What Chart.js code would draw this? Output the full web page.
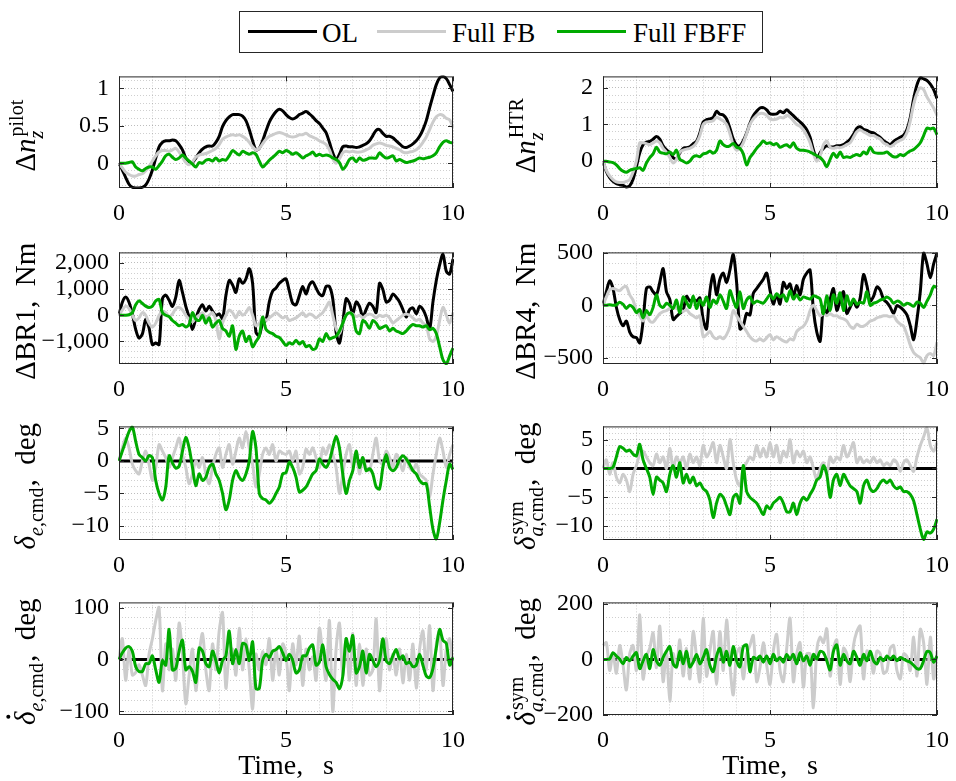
<!DOCTYPE html>
<html lang="en">
<head>
<meta charset="UTF-8">
<title>Load and command responses</title>
<script src="https://cdn.jsdelivr.net/npm/chart.js"></script>
<style>
  body { margin: 0; background: #fff; }
  #page { position: relative; width: 956px; height: 781px; overflow: hidden; background: #fff;
          font-family: 'Liberation Serif', 'Times New Roman', Times, serif; }
  .panel { position: absolute; }
  #legend { position: absolute; left: 239px; top: 11px; width: 524px; height: 42px;
            border: 1px solid #262626; box-sizing: border-box; background: #fff; }
  #legend .ln { position: absolute; top: 18px; width: 69px; height: 3px; }
  #legend .tx { position: absolute; top: 4px; font-size: 27px; line-height: 34px; color: #000; white-space: nowrap; }
</style>
</head>
<body>
<div id="page">
  <div id="legend">
    <div class="ln" style="left:8px;background:#000"></div><div class="tx" style="left:82px">OL</div>
    <div class="ln" style="left:137px;background:#cccccc"></div><div class="tx" style="left:212px">Full FB</div>
    <div class="ln" style="left:317px;background:#00aa00"></div><div class="tx" style="left:393px">Full FBFF</div>
  </div>
</div>

<script>
// time grid of the recorded signals, 0..10 s every 0.1 s
const T = Array.from({length: 101}, (_, k) => k / 10);
const T_ENDS = [0, 10];

// ---- delta nz pilot ----
const nzPilotOL = [
  0, -0.09, -0.19, -0.28, -0.32, -0.33, -0.33, -0.32, -0.29, -0.21,
  -0.09, 0.07, 0.22, 0.28, 0.30, 0.30, 0.31, 0.30, 0.25, 0.18,
  0.07, 0.02, 0.01, 0.07, 0.14, 0.19, 0.22, 0.23, 0.23, 0.28,
  0.36, 0.49, 0.57, 0.62, 0.65, 0.65, 0.65, 0.63, 0.57, 0.45,
  0.30, 0.18, 0.20, 0.30, 0.43, 0.55, 0.63, 0.69, 0.72, 0.70,
  0.65, 0.61, 0.59, 0.61, 0.65, 0.67, 0.69, 0.66, 0.62, 0.57,
  0.53, 0.47, 0.41, 0.28, 0.14, 0.05, 0.12, 0.22, 0.23, 0.22,
  0.22, 0.21, 0.22, 0.24, 0.26, 0.30, 0.37, 0.44, 0.45, 0.40,
  0.36, 0.36, 0.34, 0.30, 0.26, 0.22, 0.21, 0.23, 0.26, 0.30,
  0.36, 0.45, 0.57, 0.74, 0.90, 1.05, 1.14, 1.16, 1.13, 1.05,
  0.96];
const nzPilotFB = [
  0, -0.06, -0.12, -0.15, -0.17, -0.17, -0.15, -0.14, -0.10, -0.04,
  0.03, 0.10, 0.15, 0.17, 0.17, 0.16, 0.18, 0.20, 0.15, 0.08,
  0.01, -0.02, 0.02, 0.08, 0.11, 0.12, 0.13, 0.15, 0.17, 0.20,
  0.25, 0.32, 0.35, 0.37, 0.38, 0.37, 0.38, 0.36, 0.33, 0.28,
  0.22, 0.18, 0.20, 0.26, 0.32, 0.36, 0.38, 0.40, 0.41, 0.40,
  0.38, 0.36, 0.35, 0.36, 0.38, 0.38, 0.40, 0.37, 0.35, 0.33,
  0.30, 0.28, 0.25, 0.18, 0.06, 0.00, 0.06, 0.14, 0.16, 0.15,
  0.16, 0.15, 0.15, 0.16, 0.18, 0.20, 0.24, 0.26, 0.27, 0.26,
  0.24, 0.23, 0.22, 0.20, 0.18, 0.15, 0.14, 0.15, 0.16, 0.18,
  0.22, 0.28, 0.35, 0.45, 0.55, 0.62, 0.65, 0.64, 0.60, 0.58,
  0.48];
const nzPilotFBFF = [
  0, 0, 0, 0.01, 0.02, -0.05, -0.08, -0.10, -0.07, -0.05,
  -0.05, -0.08, -0.03, 0.03, 0.10, 0.12, 0.08, 0.05, 0.07, 0.11,
  0.07, 0.03, -0.01, -0.05, 0.01, 0.00, 0.04, 0.05, 0.03, 0.07,
  0.03, 0.05, 0.04, 0.10, 0.17, 0.14, 0.11, 0.16, 0.14, 0.12,
  0.14, 0.12, 0.03, -0.05, -0.01, 0.04, 0.08, 0.12, 0.16, 0.14,
  0.17, 0.15, 0.12, 0.14, 0.11, 0.07, 0.10, 0.12, 0.15, 0.10,
  0.12, 0.10, 0.11, 0.10, 0.07, 0.05, 0.01, -0.08, -0.03, 0.05,
  0.07, 0.02, 0.07, 0.04, 0.05, 0.07, 0.07, 0.07, 0.14, 0.10,
  0.07, 0.08, 0.10, 0.03, 0.05, 0.03, 0.01, 0.02, 0.03, 0.05,
  0.07, 0.06, 0.07, 0.08, 0.10, 0.14, 0.22, 0.28, 0.30, 0.28,
  0.27];

// ---- delta nz HTR ----
const nzHtrOL = [
  0, -0.28, -0.45, -0.55, -0.61, -0.64, -0.66, -0.70, -0.67, -0.49,
  -0.15, 0.23, 0.45, 0.52, 0.54, 0.60, 0.67, 0.60, 0.42, 0.31,
  0.23, 0.10, 0.06, 0.23, 0.35, 0.37, 0.39, 0.48, 0.54, 0.77,
  1.07, 1.13, 1.15, 1.19, 1.36, 1.28, 1.26, 1.15, 0.90, 0.60,
  0.44, 0.42, 0.56, 0.77, 1.03, 1.24, 1.36, 1.45, 1.46, 1.40,
  1.29, 1.28, 1.29, 1.36, 1.32, 1.40, 1.32, 1.24, 1.15, 1.07,
  0.98, 0.86, 0.65, 0.31, 0.06, 0.23, 0.35, 0.42, 0.39, 0.39,
  0.42, 0.42, 0.45, 0.52, 0.60, 0.73, 0.90, 0.94, 0.87, 0.84,
  0.79, 0.77, 0.71, 0.65, 0.56, 0.50, 0.45, 0.54, 0.60, 0.65,
  0.71, 0.86, 1.19, 1.70, 2.08, 2.27, 2.24, 2.20, 2.10, 1.95,
  1.71];
const nzHtrFB = [
  0, -0.25, -0.40, -0.50, -0.56, -0.58, -0.58, -0.55, -0.50, -0.30,
  0.00, 0.50, 0.50, 0.48, 0.45, 0.50, 0.55, 0.50, 0.35, 0.25,
  0.10, -0.05, 0.05, 0.25, 0.30, 0.33, 0.35, 0.40, 0.50, 0.70,
  1.00, 1.07, 1.08, 1.10, 1.20, 1.15, 1.10, 1.00, 0.75, 0.45,
  0.30, 0.35, 0.50, 0.75, 1.00, 1.15, 1.25, 1.30, 1.30, 1.25,
  1.15, 1.13, 1.15, 1.20, 1.18, 1.25, 1.20, 1.10, 1.00, 0.95,
  0.85, 0.70, 0.50, 0.20, 0.00, 0.15, 0.45, 0.55, 0.38, 0.35,
  0.38, 0.37, 0.40, 0.45, 0.50, 0.65, 0.80, 0.85, 0.80, 0.75,
  0.70, 0.70, 0.65, 0.60, 0.50, 0.45, 0.40, 0.45, 0.52, 0.57,
  0.62, 0.78, 1.10, 1.55, 1.85, 2.00, 1.95, 1.75, 1.60, 1.45,
  1.25];
const nzHtrFBFF = [
  0, 0.00, -0.02, -0.04, -0.10, -0.20, -0.27, -0.30, -0.25, -0.22,
  -0.20, -0.18, -0.25, -0.05, 0.10, 0.20, 0.38, 0.25, 0.22, 0.20,
  0.25, 0.18, 0.30, 0.05, 0.00, -0.05, 0.00, 0.12, 0.15, 0.12,
  0.20, 0.22, 0.28, 0.22, 0.30, 0.55, 0.45, 0.40, 0.42, 0.48,
  0.38, 0.35, 0.20, -0.10, 0.10, 0.22, 0.35, 0.45, 0.55, 0.48,
  0.50, 0.45, 0.48, 0.38, 0.42, 0.45, 0.38, 0.50, 0.35, 0.30,
  0.30, 0.28, 0.25, 0.20, 0.15, 0.10, 0.00, -0.15, 0.05, 0.22,
  0.10, 0.25, 0.10, 0.12, 0.10, 0.15, 0.18, 0.15, 0.25, 0.20,
  0.38, 0.25, 0.22, 0.22, 0.22, 0.25, 0.18, 0.12, 0.12, 0.18,
  0.15, 0.22, 0.28, 0.32, 0.40, 0.50, 0.70, 0.90, 0.88, 0.90,
  0.72];

// ---- delta BR1, Nm ----
const br1OL = [
  0, 500, 700, 500, 50, -540, -870, -710, -160, -480,
  -1120, -1060, -1120, 630, 770, 570, 340, 690, 1330, 870,
  340, -70, -540, -130, 220, 400, 160, 340, 160, -10,
  50, -130, 750, 1330, 1160, 870, 1390, 1220, 1390, 1780,
  1220, -650, -770, -300, -190, 510, 920, 1040, 1220, 1330,
  1390, 920, 460, 400, 750, 1100, 810, 1160, 1280, 1040,
  810, 750, 1100, 1100, 630, -650, -1060, -300, 630, 460,
  50, 510, 340, -70, 220, 460, 340, 100, 1220, 980,
  510, 570, 810, 690, 510, 220, -70, 220, 280, 50,
  340, 220, -70, -540, 510, 1330, 1920, 2330, 1680, 1570,
  2150];
const br1FB = [
  0, 200, 350, 250, 0, -200, -100, 100, 0, -300,
  -450, -300, 0, 150, 100, -50, 50, 250, 300, 200,
  0, -150, -250, -100, 0, 100, -100, 0, 100, -200,
  -900, -300, 0, 200, 100, -100, 150, 0, 100, 300,
  0, -400, -300, -100, -200, -100, 0, 100, 0, -100,
  -50, -200, -150, -100, 0, 100, -50, 50, 0, -100,
  0, 100, 300, 500, 0, -500, -700, -300, 0, 100,
  50, -50, 0, -100, 0, 50, 0, -100, 0, -50,
  0, -100, -300, -200, -100, 0, 50, 0, -100, -200,
  -150, -300, -400, -900, -1000, -800, -200, 300, 0, -300,
  100];
const br1FBFF = [
  0, 0, 0, 20, 100, 400, 550, 450, 350, 300,
  350, 550, 600, 100, 0, -50, -200, -300, -400, -350,
  -450, -350, 100, -150, -200, 0, -300, -100, -450, -300,
  -200, -500, -600, -800, -400, -1300, -800, -600, -1000, -800,
  -1200, -1000, -800, -70, -540, -650, -700, -800, -850, -1000,
  -1150, -1050, -1100, -950, -1100, -1000, -1200, -1150, -1300, -1250,
  -900, -1000, -700, -900, -850, -800, -600, -300, 0, 100,
  0, -600, -700, -200, -300, -500, -200, -300, -500, -450,
  -400, -600, -500, -600, -650, -700, -600, -450, -350, -400,
  -400, -450, -400, -550, -500, -700, -1200, -1700, -1850, -1550,
  -1250];

// ---- delta BR4, Nm ----
const br4OL = [
  0, 130, 234, 160, -18, -136, -195, -150, -255, -300,
  -308, -358, -150, 160, 175, 130, 100, 220, 350, 130,
  56, -136, -106, -77, -47, 86, 41, 56, 41, 71,
  -136, -225, 130, 293, 100, 249, 308, 219, 337, 485,
  219, -225, -195, -77, -92, 115, 160, 204, 249, 308,
  145, 12, 100, 12, 219, 160, 204, 86, 190, 100,
  249, 308, 337, -47, -255, -343, -18, -77, 56, 160,
  -47, 41, 130, -77, -18, 41, -18, 71, 293, 190,
  41, 86, 175, 145, 56, 27, -18, -77, -3, -18,
  -47, -92, -195, -328, -136, 130, 500, 396, 263, 396,
  500];
const br4FB = [
  0, 80, 150, 160, 150, 140, 170, 180, 100, 50,
  -50, -100, -150, -100, -150, -160, -120, -80, -60, -50,
  -30, 0, -30, -40, -60, -40, -80, -100, -120, -100,
  -300, -280, -250, -300, -320, -300, -320, -280, -200, -50,
  -100, -150, -200, -250, -300, -330, -340, -320, -340, -310,
  -280, -330, -300, -320, -340, -350, -320, -330, -250, -220,
  -200, -150, -50, 0, -50, -100, -80, -100, -80, -100,
  -100, -120, -130, -150, -200, -220, -180, -200, -200, -180,
  -150, -140, -120, -110, -100, -100, -110, -100, -150, -180,
  -200, -280, -380, -450, -480, -500, -550, -480, -460, -480,
  -350];
const br4FBFF = [
  0, 0, 5, 0, 5, 30, 10, -30, 0, -20,
  -70, -40, -120, -50, -90, -20, 100, 0, -20, 20,
  0, -30, 50, -70, 80, 30, -20, 90, -30, 50,
  0, 80, -20, 50, 20, 100, 40, -30, 140, 50,
  -20, 130, -30, 50, 80, 20, 40, 30, 20, 60,
  100, 60, 110, 80, 100, 40, 140, 60, 100, 50,
  80, 70, 60, 90, 80, 60, -80, 90, -50, 100,
  20, 120, -50, 90, 0, 60, 10, 30, 20, 130,
  0, 20, 30, 50, 60, 80, 60, 20, 40, 30,
  0, 20, 10, -10, 30, 20, -20, 40, 100, 180,
  170];

// ---- elevator command, deg (OL command stays at zero) ----
const deOL = [0, 0];
const deFB = [
  0, 2, 3.5, 2, -0.5, -1.5, -2, 0, 1.5, -0.5,
  -3, -1, 2.5, 1.5, 0.5, -1, 0.5, 2, 3.5, 1,
  -1, -3.5, -2, 0, -1, 0.5, -2, -3.5, -1, 1,
  2, -1, 1, 2.5, -0.5, 1.5, 3.5, 2, 4.5, 2,
  -0.5, -4, -2, 1, 2, 1, 2.5, 0, 1.5, 1.2,
  1, 1.5, 0, 1.5, -2, -1, 1.8, 1, 2, 0.5,
  -1, 2, 1, 2.5, 1, -1, -5, -2, 1, 2.5,
  -1, 1.5, -2, 0.5, -1, -1.5, 1, 3.5, 0, -0.5,
  1.5, 0.5, -1, 1, 0, -1.5, 0.5, -1, -1.5, -0.5,
  -2, -2.5, -3, -5.5, -2, 1, 3.5, 1.5, -1, 1,
  2.5];
const deFBFF = [
  0, 1.5, 3, 4.5, 5.2, 3, 1, 0.5, 0, 0.8,
  0.5, -3, -5, -6, -4, 0.8, -0.3, -1.1, -0.8, 1.5,
  3.6, 2, -1, -3.8, -2, -3, -2.5, -1, -0.5, -2,
  -3, -5, -7.5, -6, -3, -1.5, -2.5, -3, -2, 0,
  4.5, 2, -5, -5.8, -6, -6.5, -6, -5, -4, -2,
  -1.8, -0.2, -1, -2.5, -4.8, -4.5, -4, -3, -2, -1.5,
  0.3, -0.5, -1, 0, 2, 3.8, 2, -2, -5, -3,
  -1.5, 1.5, -1, 0.5, -1.5, -1.2, -2, -4, -4.3, -1,
  1, -1, -1.5, -1, 0.2, 0.8, 0.3, -0.5, -1.5, -2,
  -3, -3.5, -3.5, -7, -10.5, -12, -9.5, -6, -3, -0.5,
  -1.3];

// ---- symmetric aileron command, deg ----
const daOL = [0, 0];
const daFB = [
  0, 1.5, -1, 1, -1.5, -2.5, -1, -2, -4, -1,
  0.5, 2.5, 3, 2, 1, 0.5, 2.5, 1, 2, 0,
  3.5, 0, 2, 1, 2, 0, 2.5, 1, 2, 0.5,
  4, 2, 3, 4.5, 1, 4, 2, 0, 5, 1,
  -2, -3, 0, 1, 2, 1.5, 4, 2, 3.5, 2,
  4.5, 2, 4, 1, 3, 2, 5, 1, 3, 2,
  3, 1, 2, 0, -2, 0, 1, -1, 2, 1,
  2, 1.5, 4, 2, 3, 4.5, 1, 2, 1, 1.5,
  1, 2, 1, 1.5, 0.5, 1, 0.5, 1.5, 1, -0.5,
  1, 1.5, 0.5, -0.5, 2, 4, 5.5, 7, 4, 3,
  4.5];
const daFBFF = [
  0, 0, 0, 0.2, 2, 3.8, 3.5, 3, 3.2, 2.5,
  2.2, 4.2, 1.5, 0, -1.5, -4.5, -1.5, -2, -2.5, -4,
  -1, 0.5, -1.5, 1, -2.5, -1, -2.5, -1.5, -3, -2.5,
  -3.5, -4, -5.5, -8.5, -6, -4.5, -5, -6.5, -8, -5,
  -4.5, -6, 0.5, -4, -5, -5.5, -6, -7, -8, -6.5,
  -7, -6, -5.5, -5, -6, -7.5, -7.5, -6, -8, -6,
  -5, -5.5, -4.5, -3.5, -2, -1.5, 0.5, -1, -5, -2,
  -1, -3, -1, -2, -3, -3.5, -4, -6, -3, -2,
  -3.5, -4, -3.5, -2.5, -2, -2.5, -2, -3, -3.5, -3.2,
  -4, -4, -4.5, -5.6, -8, -10.5, -12.3, -11, -11.2, -10.5,
  -8.8];

// ---- elevator command rate, deg/s ----
const deRateOL = [0, 0];
const deRateFB = [
  0, 40, -40, 20, -30, -25, -10, -30, -50, 10,
  40, 75, 100, -60, 30, -20, 20, -40, 70, 10,
  -85, -30, 20, -60, 10, 50, -20, -60, 30, -20,
  55, 90, -55, 10, 20, -30, 60, -20, 40, -20,
  -95, 10, -20, 15, -10, 40, -40, 20, -30, 30,
  10, -60, 30, -10, 45, -50, 20, -20, 5, -40,
  60, 10, -40, 75, -100, 20, 70, -30, 40, -40,
  50, -50, 30, -50, 20, -30, -20, 78, -60, 20,
  40, -20, 10, -30, 20, -45, 10, -40, 30, -55,
  20, 55, -20, 65, -60, 30, 55, -50, 20, 40,
  -20];
const deRateFBFF = [
  0, 13, 22, 25, 16, -14, -23, -23, -8, -8,
  7, -20, -44, -2, -11, 58, -20, -17, 16, 37,
  -20, -14, -23, -44, 22, 16, -8, -14, 16, -2,
  -26, -2, 7, 55, -8, 19, -8, 31, 28, -2,
  34, -56, -56, -2, 10, 4, 16, 19, 25, 13,
  -2, 10, -2, -26, -20, 7, 7, 22, 28, -11,
  -5, 28, -14, -29, -38, -44, -56, -32, 40, 16,
  46, -26, -14, 16, -26, 10, -2, -14, -2, 40,
  -2, -8, 7, 19, 1, 7, -8, -5, -14, -11,
  10, -11, -32, -35, -17, 22, 58, 37, 31, -11,
  4];

// ---- symmetric aileron command rate, deg/s ----
const daRateOL = [0, 0];
const daRateFB = [
  50, 60, -40, 20, -50, 50, -20, -110, 20, 50,
  -40, 160, -70, 10, 40, 95, -30, 120, -80, 30,
  -150, 20, -30, 70, -60, 40, -70, 100, 10, -80,
  148, -60, 30, 100, -90, 100, -40, 142, -20, -128,
  20, 40, -70, 20, 50, 86, -80, -30, 60, -20,
  -90, 30, 90, -40, -80, 40, 148, -80, 20, 60,
  -100, 20, 20, -174, 30, 80, 60, 110, -60, 40,
  70, -90, 40, 20, -80, 50, 100, 120, -70, 30,
  20, -50, 30, 20, -50, -40, 40, 50, -40, -70,
  20, 10, -40, 80, -60, 108, 60, -90, 80, -70,
  30];
const daRateFBFF = [
  0, 0, 2, 24, 12, 1, -16, 7, -5, 12,
  24, -33, -5, 18, -33, 35, -5, -21, 7, 29,
  46, -16, -27, 29, -16, 29, -27, -10, 18, -16,
  7, 35, -21, -44, 12, 40, -10, 29, -21, 46,
  -5, -27, 46, 52, -44, 7, 1, 12, -10, 12,
  -16, 18, -5, 7, -10, 18, 1, 18, -16, 24,
  -5, 12, -21, 18, 1, 29, 24, -5, -38, 29,
  52, -21, 18, -5, -16, 29, 7, -21, 18, -5,
  29, -5, -16, 7, -5, 12, 1, 12, -5, 7,
  1, -5, -10, -21, -33, -33, -5, 29, 24, -10,
  12];

// ------------------------------------------------------------------
const FONT = "'Liberation Serif', 'Times New Roman', Times, serif";
const BLACK = '#000000', GRAY = '#cccccc', GREEN = '#00aa00';
const AXIS_COLOR = '#262626';
const TICK_SIZE = 24, LABEL_SIZE = 29;

// layout of the 4x2 grid (plot-area pixels)
const COL_LEFT = [119, 603];
const ROW_TOP = [68, 244, 418, 594];
const ROW_H = [120, 120, 122, 121];
const PLOT_W = 337;
const AXIS_W = 115, PAD_T = 16, PAD_R = 20;
const LABEL_BASE = [35, 535];

const it = (t) => ({t: t, it: true});
const rm = (t) => ({t: t});

// note: y limits chosen so Chart.js keeps the minor step on round values
const panels = [
  {row: 0, col: 0, ol: nzPilotOL, fb: nzPilotFB, fbff: nzPilotFBFF, min: -0.33, max: 1.16, major: 0.5, minor: 0.1,
   label: [rm('Δ'), it('n'), {sub: [it('z')], sup: [rm('pilot')]}]},
  {row: 0, col: 1, ol: nzHtrOL, fb: nzHtrFB, fbff: nzHtrFBFF, min: -0.73, max: 2.31, major: 1, minor: 0.2,
   label: [rm('Δ'), it('n'), {sub: [it('z')], sup: [rm('HTR')]}]},
  {row: 1, col: 0, ol: br1OL, fb: br1FB, fbff: br1FBFF, min: -1860, max: 2400, major: 1000, minor: 200,
   label: [rm('ΔBR1,  Nm')]},
  {row: 1, col: 1, ol: br4OL, fb: br4FB, fbff: br4FBFF, min: -560, max: 505, major: 500, minor: 100,
   label: [rm('ΔBR4,  Nm')]},
  {row: 2, col: 0, ol: deOL, fb: deFB, fbff: deFBFF, min: -12.15, max: 5.3, major: 5, minor: 1,
   label: [it('δ'), {sub: [it('e'), rm(',cmd')]}, rm(',  deg')]},
  {row: 2, col: 1, ol: daOL, fb: daFB, fbff: daFBFF, min: -12.4, max: 7.3, major: 5, minor: 1,
   label: [it('δ'), {sub: [it('a'), rm(',cmd')], sup: [rm('sym')]}, rm(',  deg')]},
  {row: 3, col: 0, ol: deRateOL, fb: deRateFB, fbff: deRateFBFF, min: -107, max: 110, major: 100, minor: 20,
   label: [Object.assign(it('δ'), {dot: true}), {sub: [it('e'), rm(',cmd')]}, rm(',  deg')]},
  {row: 3, col: 1, ol: daRateOL, fb: daRateFB, fbff: daRateFBFF, min: -200, max: 205, major: 200, minor: 50,
   label: [Object.assign(it('δ'), {dot: true}), {sub: [it('a'), rm(',cmd')], sup: [rm('sym')]}, rm(',  deg')]}
];

function isMajor(v, step) {
  const q = v / step;
  return Math.abs(q - Math.round(q)) < 1e-6;
}

// MATLAB style tick text: thousands separator and a true minus sign
function fmtTick(v, step) {
  const r = Math.round(v / step) * step;
  const a = Math.abs(r);
  let s = String(parseFloat(a.toFixed(6)));
  if (a >= 1000) s = s.replace(/\B(?=(\d{3})+(?!\d))/g, ',');
  return (r < 0 ? '\u2212' : '') + s;
}

function pts(ys) {
  const xs = ys.length === 2 ? T_ENDS : T;
  return ys.map((v, i) => ({x: xs[i], y: v}));
}

// draws a label with sub/superscripts, centred on the origin, baseline at y = 0
function drawRich(ctx, parts, size) {
  const small = Math.round(size * 0.7);
  const f = (sz, itl) => (itl ? 'italic ' : '') + sz + 'px ' + FONT;
  const runW = (runs, sz) => runs.reduce((w, r) => { ctx.font = f(sz, r.it); return w + ctx.measureText(r.t).width; }, 0);
  const drawRuns = (runs, sz, x0, y) => {
    let xx = x0;
    runs.forEach(r => { ctx.font = f(sz, r.it); ctx.fillText(r.t, xx, y); xx += ctx.measureText(r.t).width; });
  };
  const widths = parts.map(p => p.t !== undefined ? runW([p], size)
    : Math.max(p.sub ? runW(p.sub, small) : 0, p.sup ? runW(p.sup, small) + 2 : 0) + 1);
  const total = widths.reduce((a, b) => a + b, 0);
  let x = -total / 2;
  parts.forEach((p, i) => {
    if (p.t !== undefined) {
      drawRuns([p], size, x, 0);
      if (p.dot) {
        ctx.beginPath();
        ctx.arc(x + widths[i] * 0.6, -size * 0.92, size * 0.07, 0, 2 * Math.PI);
        ctx.fill();
      }
    } else {
      if (p.sub) drawRuns(p.sub, small, x, size * 0.28);
      if (p.sup) drawRuns(p.sup, small, x + 2, -size * 0.42);
    }
    x += widths[i];
  });
}

// axes box, inner tick marks and the y label
const axesDecor = {
  id: 'axesDecor',
  afterDraw(chart, args, opts) {
    const {ctx, chartArea: a} = chart;
    const xs = chart.scales.x, ys = chart.scales.y;
    ctx.save();
    ctx.strokeStyle = AXIS_COLOR;
    ctx.lineWidth = 1;
    ctx.strokeRect(a.left + 0.5, a.top + 0.5, a.width - 1, a.height - 1);
    ctx.beginPath();
    xs.ticks.forEach(tk => {
      if (!isMajor(tk.value, 5)) return;
      const px = Math.round(xs.getPixelForValue(tk.value)) + 0.5;
      ctx.moveTo(px, a.bottom); ctx.lineTo(px, a.bottom - 5);
      ctx.moveTo(px, a.top); ctx.lineTo(px, a.top + 5);
    });
    ys.ticks.forEach(tk => {
      if (!isMajor(tk.value, opts.major)) return;
      const py = Math.round(ys.getPixelForValue(tk.value)) + 0.5;
      ctx.moveTo(a.left, py); ctx.lineTo(a.left + 5, py);
      ctx.moveTo(a.right, py); ctx.lineTo(a.right - 5, py);
    });
    ctx.stroke();

    ctx.fillStyle = '#000';
    ctx.textAlign = 'left';
    ctx.textBaseline = 'alphabetic';
    ctx.translate(opts.labelX, (a.top + a.bottom) / 2 + 3);
    ctx.rotate(-Math.PI / 2);
    drawRich(ctx, opts.label, LABEL_SIZE);
    ctx.restore();
  }
};

const page = document.getElementById('page');

panels.forEach(p => {
  const axH = p.row === 3 ? 68 : 42;
  const left = COL_LEFT[p.col] - AXIS_W;
  const top = ROW_TOP[p.row] - PAD_T;
  const w = AXIS_W + PLOT_W + PAD_R;
  const h = PAD_T + ROW_H[p.row] + axH;

  const div = document.createElement('div');
  div.className = 'panel';
  div.style.left = left + 'px';
  div.style.top = top + 'px';
  const canvas = document.createElement('canvas');
  canvas.width = w;
  canvas.height = h;
  div.appendChild(canvas);
  page.appendChild(div);

  const tickFont = {family: FONT, size: TICK_SIZE};
  const gridColor = (step) => (c) => isMajor(c.tick.value, step) ? 'rgba(38,38,38,0.30)' : 'rgba(38,38,38,0.22)';

  new Chart(canvas, {
    type: 'line',
    data: {
      datasets: [
        {label: 'Full FBFF', data: pts(p.fbff), borderColor: GREEN, order: 0},
        {label: 'Full FB', data: pts(p.fb), borderColor: GRAY, order: 1},
        {label: 'OL', data: pts(p.ol), borderColor: BLACK, order: 2}
      ]
    },
    options: {
      responsive: false,
      animation: false,
      events: [],
      layout: {padding: {top: PAD_T, right: PAD_R, left: 0, bottom: 0}},
      datasets: {line: {borderWidth: 3, pointRadius: 0, tension: 0.3, fill: false, clip: 1}},
      plugins: {
        legend: {display: false},
        tooltip: {enabled: false},
        axesDecor: {label: p.label, major: p.major, labelX: LABEL_BASE[p.col] - left}
      },
      scales: {
        x: {
          type: 'linear', min: 0, max: 10,
          afterFit: s => { s.height = axH; },
          ticks: {
            stepSize: 1, autoSkip: false, maxRotation: 0, includeBounds: false, padding: 11,
            font: tickFont, color: '#000',
            callback: v => isMajor(v, 5) ? fmtTick(v, 5) : ''
          },
          grid: {drawTicks: false, lineWidth: 1, color: gridColor(5)},
          border: {display: false, dash: [1, 2]},
          title: {display: p.row === 3, text: 'Time,\u2002\u2009s', color: '#000', padding: 0,
                  font: {family: FONT, size: 28}}
        },
        y: {
          type: 'linear', min: p.min, max: p.max,
          afterFit: s => { s.width = AXIS_W; },
          ticks: {
            stepSize: p.minor, autoSkip: false, includeBounds: false, maxTicksLimit: 200, padding: 10,
            font: tickFont, color: '#000',
            callback: v => isMajor(v, p.major) ? fmtTick(v, p.major) : ''
          },
          grid: {drawTicks: false, lineWidth: 1, color: gridColor(p.major)},
          border: {display: false, dash: [1, 2]}
        }
      }
    },
    plugins: [axesDecor]
  });
});
</script>
</body>
</html>
